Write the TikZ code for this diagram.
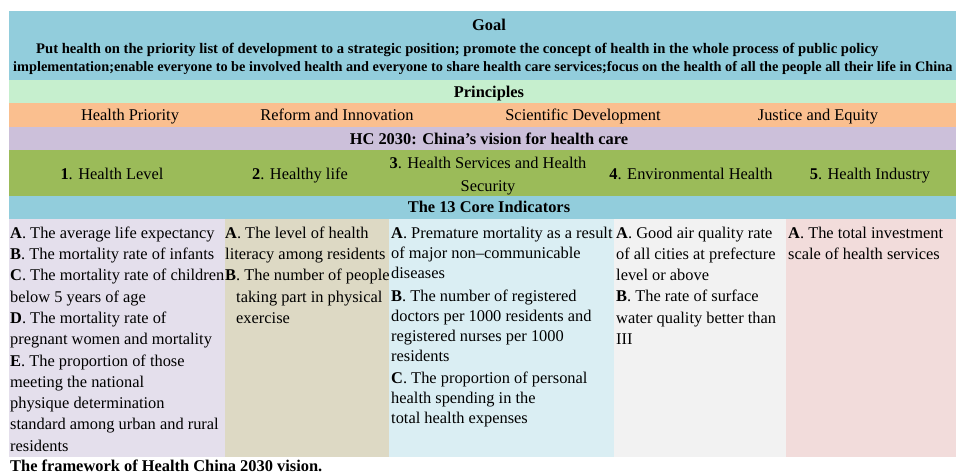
\documentclass[tikz,border=0pt]{standalone}
\usepackage{fontspec}
\setmainfont{Liberation Serif}
\usetikzlibrary{positioning}

\definecolor{goalblue}{HTML}{92CDDC}
\definecolor{princgreen}{HTML}{C6EFCE}
\definecolor{princorange}{HTML}{FABF8F}
\definecolor{visionpurple}{HTML}{CCC0DA}
\definecolor{dimgreen}{HTML}{9BBB59}
\definecolor{colpurple}{HTML}{E4DFEC}
\definecolor{coltan}{HTML}{DDD9C4}
\definecolor{colblue}{HTML}{DAEEF3}
\definecolor{colgrey}{HTML}{F2F2F2}
\definecolor{colpink}{HTML}{F2DCDB}

\tikzset{
  band/.style={rectangle, anchor=north west, inner sep=0pt, outer sep=0pt, minimum width=960pt},
  colbox/.style={rectangle, inner sep=0pt, outer sep=0pt, minimum height=238pt},
  txt/.style={inner sep=0pt, anchor=base, font=\fontsize{16.4}{21.3}\selectfont},
  headtxt/.style={txt, font=\fontsize{16.4}{21.3}\selectfont\bfseries},
  goaltxt/.style={inner sep=0pt, anchor=base west, font=\fontsize{14.65}{18}\selectfont\bfseries},
  coltxt/.style={inner sep=0pt, anchor=north west, align=left, font=\fontsize{16.4}{21.3}\selectfont}
}

\begin{document}
\begin{tikzpicture}[x=1pt, y=-1pt]

\useasboundingbox (0,0) rectangle (956,475);
\clip (0,0) rectangle (956,475);

% Goal

\node[band, fill=goalblue, minimum height=69pt] (goal) at (9,11) {};

\node[headtxt] (goaltitle) at (489,30) {Goal};

\node[goaltxt] (goalline1) at (36,53.3) {Put health on the priority list of development to a strategic position; promote the concept of health in the whole process of public policy};

\node[goaltxt, font=\fontsize{14.3}{18}\selectfont\bfseries] (goalline2) at (13,71.7) {implementation;enable everyone to be involved health and everyone to share health care services;focus on the health of all the people all their life in China};

% Principles

\node[band, fill=princgreen, minimum height=23pt] (princ) at (9,80) {};

\node[headtxt] (princtitle) at (489,97) {Principles};

\node[band, fill=princorange, minimum height=24pt] (princrow) at (9,103) {};

\node[txt] (p1) at (130,120.5) {Health Priority};

\node[txt] (p2) at (337,120.5) {Reform and Innovation};

\node[txt] (p3) at (583,120.5) {Scientific Development};

\node[txt] (p4) at (818,120.5) {Justice and Equity};

% HC 2030

\node[band, fill=visionpurple, minimum height=23pt] (vision) at (9,127) {};

\node[headtxt] (visiontitle) at (489,144.3) {HC 2030: China’s vision for health care};

\node[band, fill=dimgreen, minimum height=46pt] (dims) at (9,150) {};

\node[txt] (d1) at (112,179.3) {\textbf{1}. Health Level};

\node[txt] (d2) at (300,179.3) {\textbf{2}. Healthy life};

\node[txt, anchor=center, align=center, font=\fontsize{16.4}{22.4}\selectfont] (d3) at (488,176) {\textbf{3}. Health Services and Health\\Security};

\node[txt] (d4) at (691,179.3) {\textbf{4}. Environmental Health};

\node[txt] (d5) at (870,179.3) {\textbf{5}. Health Industry};

% Core indicators

\node[band, fill=goalblue, minimum height=23pt] (core) at (9,196) {};

\node[headtxt] (coretitle) at (489,212.3) {The 13 Core Indicators};

\node[colbox, fill=colpurple, minimum width=216pt, anchor=north west] (c1) at (9,219) {};

\node[colbox, fill=coltan, minimum width=164pt, right=0pt of c1] (c2) {};

\node[colbox, fill=colblue, minimum width=225pt, right=0pt of c2] (c3) {};

\node[colbox, fill=colgrey, minimum width=172pt, right=0pt of c3] (c4) {};

\node[colbox, fill=colpink, minimum width=183pt, right=0pt of c4] (c5) {};

\node[coltxt] (c1t) at (10,226.5) {\textbf{A}. The average life expectancy\\
\textbf{B}. The mortality rate of infants\\
\textbf{C}. The mortality rate of children\\
below 5 years of age\\
\textbf{D}. The mortality rate of\\
pregnant women and mortality\\
\textbf{E}. The proportion of those\\
meeting the national\\
physique determination\\
standard among urban and rural\\
residents};

\node[coltxt] (c2t) at (225,226.5) {\textbf{A}. The level of health\\
literacy among residents\\
\textbf{B}. The number of people\\
\hspace*{11pt}taking part in physical\\
\hspace*{11pt}exercise};

\node[coltxt, font=\fontsize{16.4}{20}\selectfont] (c3t) at (391,226.5) {\textbf{A}. Premature mortality as a result\\
of major non–communicable\\
diseases\\[3pt]
\textbf{B}. The number of registered\\
doctors per 1000 residents and\\
registered nurses per 1000\\
residents\\[2pt]
\textbf{C}. The proportion of personal\\
health spending in the\\
total health expenses};

\node[coltxt] (c4t) at (616,226.5) {\textbf{A}. Good air quality rate\\
of all cities at prefecture\\
level or above\\
\textbf{B}. The rate of surface\\
water quality better than\\
III};

\node[coltxt] (c5t) at (788,226.5) {\textbf{A}. The total investment\\
scale of health services};

\node[headtxt, anchor=base west] (caption) at (10,471) {The framework of Health China 2030 vision.};

\end{tikzpicture}
\end{document}
